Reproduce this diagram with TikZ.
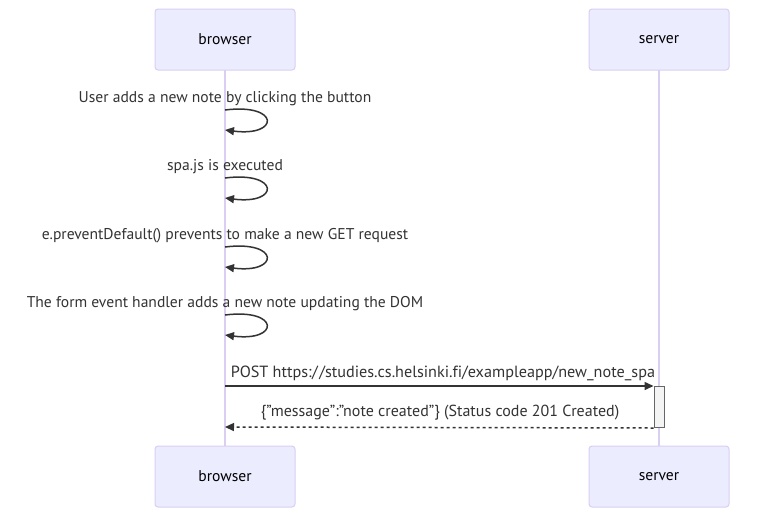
\documentclass[tikz,border=0pt]{standalone}
\usepackage{fontspec}
\setmainfont[Ligatures=NoCommon]{PT Sans}
\usetikzlibrary{arrows.meta}
\definecolor{actfill}{HTML}{ECECFF}
\definecolor{actline}{HTML}{DACEF3}
\definecolor{ink}{HTML}{333333}
\definecolor{actvfill}{HTML}{F4F4F4}
\definecolor{actvline}{HTML}{666666}
\newcommand{\dq}{\symbol{34}}
\tikzset{
  actor/.style={draw=actline, fill=actfill, line width=1pt, rounded corners=3pt, minimum width=140pt, minimum height=61pt, inner sep=0pt, text=black, font=\fontsize{15.6}{18}\selectfont},
  lifeline/.style={draw=actline, line width=1.5pt},
  msg/.style={draw=ink, line width=1.5pt, -{Triangle[length=9pt,width=8pt]}},
  lbl/.style={text=ink, font=\fontsize{15.6}{18}\selectfont, inner sep=0pt},
  activation/.style={draw=actvline, fill=actvfill, line width=1pt, minimum width=10pt, minimum height=41pt, inner sep=0pt}
}
\begin{document}
\begin{tikzpicture}[x=1pt,y=-1pt]
\useasboundingbox (0,0) rectangle (784,523);
\fill[white] (0,0) rectangle (784,523);
% lifelines
\coordinate (bt) at (225,70);
\coordinate (bb) at (225,446);
\coordinate (st) at (659,70);
\coordinate (sb) at (659,446);
\draw[lifeline] (bt) -- (bb);
\draw[lifeline] (st) -- (sb);
% actors
\node[actor] (b1) at (225,39.5) {browser};
\node[actor] (s1) at (659,39.5) {server};
\node[actor] (b2) at (225,476.5) {browser};
\node[actor] (s2) at (659,476.5) {server};
% self messages
\foreach \i/\y/\t in {1/110/{User adds a new note by clicking the button},
                      2/178/{spa.js is executed},
                      3/247/{e.preventDefault() prevents to make a new GET request},
                      4/315/{The form event handler adds a new note updating the DOM}}{
  \node[lbl] (l\i) at (225,\y-11) {\t};
  \coordinate (a\i) at (225,\y);
  \coordinate (e\i) at (225,\y+20);
  \draw[msg] (a\i) .. controls (280,\y-7) and (280,\y+27) .. (e\i);
}
% activation
\node[activation, anchor=north] (act) at (659,386) {};
% POST
\coordinate (p0) at (225,386);
\node[lbl, font=\fontsize{16.2}{18}\selectfont] (pl) at (443,373) {POST https:/\kern1.5pt/studies.cs.helsinki.fi/exampleapp/new\_note\_spa};
\draw[msg] (p0) -- (act.north west);
% response
\node[lbl, font=\fontsize{16}{18}\selectfont] (rl) at (440,413) {\{\dq message\dq:\dq note created\dq\} (Status code 201 Created)};
\coordinate (r1) at (225,427);
\draw[msg, dash pattern=on 3pt off 3pt] (act.south west) -- (r1);
\end{tikzpicture}
\end{document}
